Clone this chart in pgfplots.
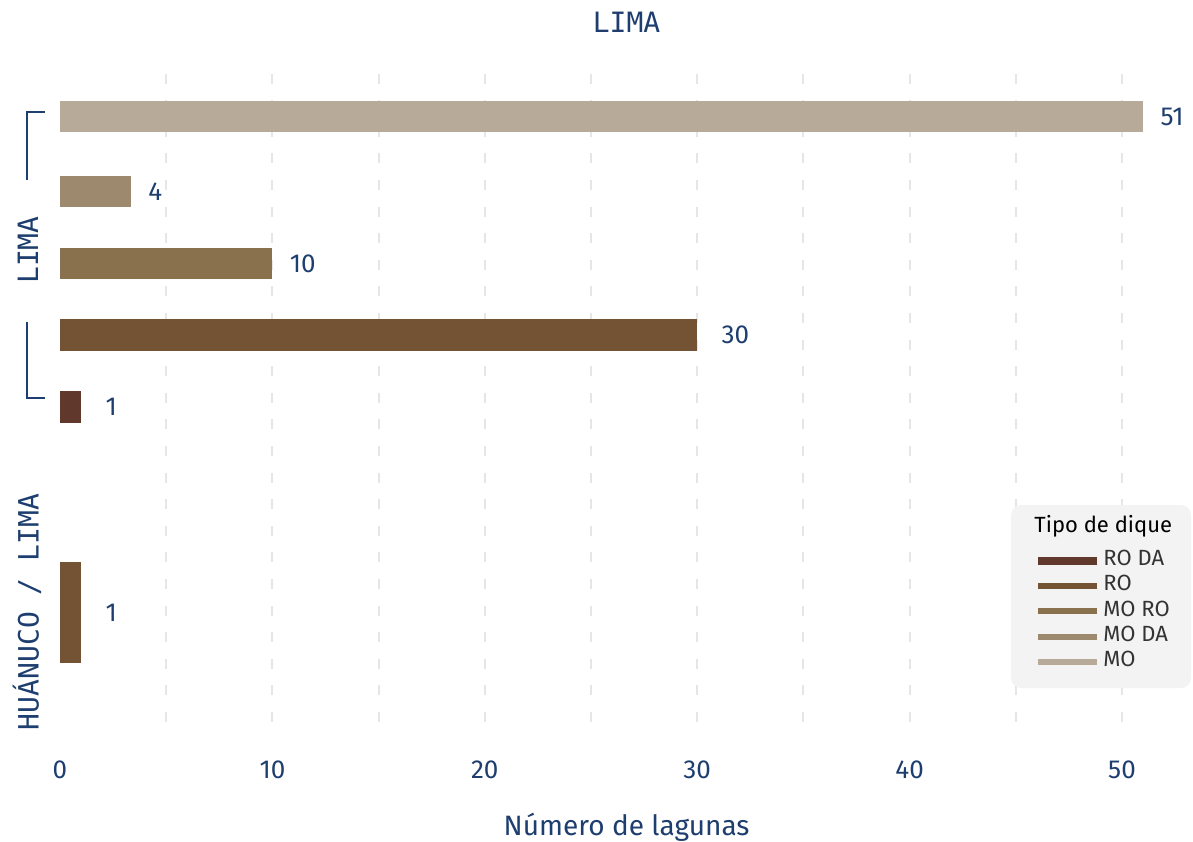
\documentclass[border=0pt]{standalone}
\usepackage{fontspec}
\setmainfont{Fira Sans}
\newfontfamily\monofont{DejaVu Sans Mono}
\usepackage{pgfplots}
\pgfplotsset{compat=1.18}
\definecolor{cRODA}{HTML}{61392C}
\definecolor{cRO}{HTML}{735334}
\definecolor{cMORO}{HTML}{8A714E}
\definecolor{cMODA}{HTML}{9D8A6E}
\definecolor{cMO}{HTML}{B8AA98}
\definecolor{txtblue}{HTML}{1D3E6E}
\definecolor{gridc}{HTML}{E6E6E6}
\definecolor{leggray}{HTML}{F2F3F2}
\definecolor{legtxt}{HTML}{333333}
\begin{document}
\begin{tikzpicture}
\useasboundingbox (-30pt,-59.5pt) rectangle (566.5pt,361pt);
\begin{axis}[
  x=10.62pt, y=0.5pt,
  xmin=0, xmax=51.1, ymin=-722, ymax=-62,
  clip=false,
  axis line style={draw=none},
  tick style={draw=none},
  major tick length=0pt,
  ytick=\empty,
  xtick={0,10,...,50},
  extra x ticks={5,10,...,50},
  extra x tick labels={},
  extra x tick style={grid=major},
  major grid style={gridc, line width=1pt, dash pattern=on 5pt off 8.3pt},
  /pgf/number format/assume math mode=true,
  xticklabel style={font=\fontsize{13}{15}\selectfont, text=txtblue, anchor=center, yshift=-24pt},
  xlabel={Número de lagunas},
  xlabel style={at={(0.522,-0.159)}, anchor=center, font=\fontsize{14}{16}\selectfont, text=txtblue},
  title={LIMA},
  every axis title shift=0pt,
  title style={at={(0.522,1.0606)}, anchor=center, font=\monofont\fontsize{14}{16}\selectfont, text=txtblue},
  legend style={at={(axis cs:45.86,-548)}, anchor=north west, draw=none, fill=none, inner sep=0pt,
    row sep=0pt, column sep=1pt,
    nodes={inner sep=0pt, text height=8.6pt, text depth=4pt, anchor=west},
    font=\fontsize{11}{13}\selectfont, text=legtxt},
  legend cell align=left,
]
% legend background and title
\fill[leggray, rounded corners=5pt] (axis cs:44.78,-505) rectangle (axis cs:53.25,-688);
\node[anchor=west, inner sep=0pt, font=\fontsize{11}{13}\selectfont, text=black] at (axis cs:45.86,-526) {Tipo de dique};

\addplot[xbar, bar width=31, bar shift=0, fill=cMO, draw=none, forget plot,
  nodes near coords, point meta=explicit symbolic,
  nodes near coords style={anchor=west, inner sep=0pt, xshift=8.5pt, font=\fontsize{13}{15}\selectfont, text=txtblue}]
  coordinates {(51,-116.5) [51]};
\addplot[xbar, bar width=31, bar shift=0, fill=cMODA, draw=none, forget plot,
  nodes near coords, point meta=explicit symbolic,
  nodes near coords style={anchor=west, inner sep=0pt, xshift=8.5pt, font=\fontsize{13}{15}\selectfont, text=txtblue}]
  coordinates {(3.34,-191.5) [4]};
\addplot[xbar, bar width=31, bar shift=0, fill=cMORO, draw=none, forget plot,
  nodes near coords, point meta=explicit symbolic,
  nodes near coords style={anchor=west, inner sep=0pt, xshift=8.5pt, font=\fontsize{13}{15}\selectfont, text=txtblue}]
  coordinates {(10,-263.5) [10]};
\addplot[xbar, bar width=32, bar shift=0, fill=cRO, draw=none, forget plot,
  nodes near coords, point meta=explicit symbolic,
  nodes near coords style={anchor=west, inner sep=0pt, xshift=12pt, font=\fontsize{13}{15}\selectfont, text=txtblue}]
  coordinates {(30,-335) [30]};
\addplot[xbar, bar width=32, bar shift=0, fill=cRODA, draw=none, forget plot,
  nodes near coords, point meta=explicit symbolic,
  nodes near coords style={anchor=west, inner sep=0pt, xshift=12pt, font=\fontsize{13}{15}\selectfont, text=txtblue}]
  coordinates {(1,-407) [1]};
\addplot[xbar, bar width=101, bar shift=0, fill=cRO, draw=none, forget plot,
  nodes near coords, point meta=explicit symbolic,
  nodes near coords style={anchor=west, inner sep=0pt, xshift=12pt, font=\fontsize{13}{15}\selectfont, text=txtblue}]
  coordinates {(1,-612.5) [1]};

% legend entries
\addlegendimage{legend image code/.code={\draw[cRODA, line width=4pt] (0pt,0pt) -- (29.5pt,0pt);}}
\addlegendentry{RO DA}
\addlegendimage{legend image code/.code={\draw[cRO, line width=3pt] (0pt,0pt) -- (29.5pt,0pt);}}
\addlegendentry{RO}
\addlegendimage{legend image code/.code={\draw[cMORO, line width=3pt] (0pt,0pt) -- (29.5pt,0pt);}}
\addlegendentry{MO RO}
\addlegendimage{legend image code/.code={\draw[cMODA, line width=3pt] (0pt,0pt) -- (29.5pt,0pt);}}
\addlegendentry{MO DA}
\addlegendimage{legend image code/.code={\draw[cMO, line width=3pt] (0pt,0pt) -- (29.5pt,0pt);}}
\addlegendentry{MO}

% facet group labels and bracket
\draw[txtblue, line width=1.3pt] (axis cs:-0.706,-112) -- (axis cs:-1.554,-112) -- (axis cs:-1.554,-180);
\draw[txtblue, line width=1.3pt] (axis cs:-1.554,-322) -- (axis cs:-1.554,-398) -- (axis cs:-0.706,-398);
\node[rotate=90, anchor=center, inner sep=0pt, font=\monofont\fontsize{14}{16}\selectfont, text=txtblue] at (axis cs:-1.507,-250) {LIMA};
\node[rotate=90, anchor=center, inner sep=0pt, font=\monofont\fontsize{14}{16}\selectfont, text=txtblue] at (axis cs:-1.554,-612) {HUÁNUCO / LIMA};
\end{axis}
\end{tikzpicture}
\end{document}
